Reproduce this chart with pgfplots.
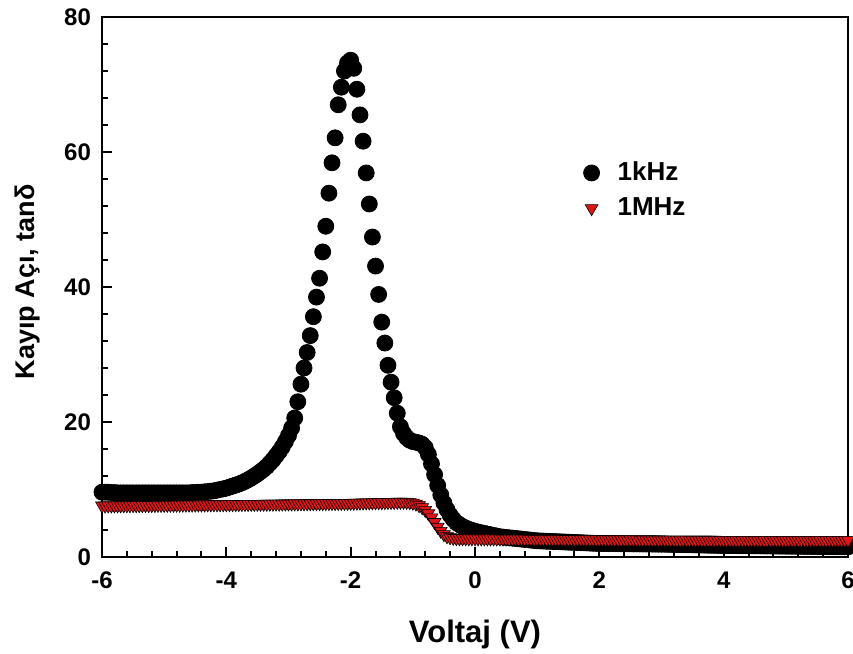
\documentclass[border=0pt]{standalone}
\usepackage{pgfplots}
\pgfplotsset{compat=1.18}
\usepackage{fontspec}
\setmainfont{Liberation Sans}
\definecolor{tri}{RGB}{225,20,20}
\begin{document}
\begin{tikzpicture}
\useasboundingbox (-51pt,-48.5pt) rectangle (375.5pt,278.5pt);
\begin{axis}[
  at={(0,0)}, anchor=south west,
  scale only axis, width=373pt, height=270pt,
  xmin=-6, xmax=6, ymin=0, ymax=80,
  xtick={-6,-4,...,6}, ytick={0,20,...,80},
  minor x tick num=4, minor y tick num=4,
  tick pos=left, tick align=inside,
  major tick length=5pt, minor tick length=3pt,
  axis line style={line width=1.3pt},
  every tick/.style={line width=1pt, black},
  clip=false,
  /pgf/number format/assume math mode=true,
  ticklabel style={font=\bfseries\fontsize{12}{14}\selectfont},
  xticklabel style={yshift=-4pt},
  yticklabel style={xshift=-2pt},
  xlabel={Voltaj (V)},
  ylabel={Kayıp Açı, tanδ},
  xlabel style={at={(axis description cs:0.5,-0.144)}, anchor=center, font=\bfseries\fontsize{15.5}{18}\selectfont},
  ylabel style={at={(axis description cs:-0.1,0.51)}, anchor=center, font=\bfseries\fontsize{13.5}{16}\selectfont},
  legend style={at={(rel axis cs:0.637,0.747)}, anchor=north west, draw=none, fill=none,
    font=\bfseries\fontsize{13}{15}\selectfont, row sep=3pt, column sep=7pt},
  legend cell align=left,
]
\addplot[only marks, mark=*, mark size=4pt, black] coordinates {
(-6.00,9.6) (-5.95,9.6) (-5.90,9.6) (-5.85,9.55) (-5.80,9.55) (-5.75,9.5) (-5.70,9.5) (-5.65,9.5) (-5.60,9.5) (-5.55,9.5)
(-5.50,9.5) (-5.45,9.5) (-5.40,9.5) (-5.35,9.5) (-5.30,9.5) (-5.25,9.5) (-5.20,9.5) (-5.15,9.5) (-5.10,9.5) (-5.05,9.5)
(-5.00,9.5) (-4.95,9.5) (-4.90,9.5) (-4.85,9.5) (-4.80,9.5) (-4.75,9.5) (-4.70,9.5) (-4.65,9.5) (-4.60,9.5) (-4.55,9.55)
(-4.50,9.55) (-4.45,9.6) (-4.40,9.6) (-4.35,9.65) (-4.30,9.7) (-4.25,9.75) (-4.20,9.8) (-4.15,9.9) (-4.10,10.0) (-4.05,10.1)
(-4.00,10.2) (-3.95,10.35) (-3.90,10.5) (-3.85,10.65) (-3.80,10.8) (-3.75,11.0) (-3.70,11.2) (-3.65,11.45) (-3.60,11.7) (-3.55,12.0)
(-3.50,12.3) (-3.45,12.65) (-3.40,13.0) (-3.35,13.4) (-3.30,13.9) (-3.25,14.4) (-3.20,15.0) (-3.15,15.6) (-3.10,16.3) (-3.05,17.1)
(-3.00,18.0) (-2.95,19.1) (-2.90,20.6) (-2.85,23.0) (-2.80,25.6) (-2.75,28.0) (-2.70,30.3) (-2.65,32.8) (-2.60,35.6) (-2.55,38.5)
(-2.50,41.3) (-2.45,45.2) (-2.40,49.0) (-2.35,53.9) (-2.30,58.4) (-2.25,62.1) (-2.20,67.0) (-2.15,69.6) (-2.10,72.0) (-2.05,73.2)
(-2.00,73.6) (-1.95,72.4) (-1.90,69.3) (-1.85,65.5) (-1.80,61.6) (-1.75,56.9) (-1.70,52.3) (-1.65,47.4) (-1.60,43.1) (-1.55,38.9)
(-1.50,34.8) (-1.45,31.7) (-1.40,28.4) (-1.35,25.9) (-1.30,23.6) (-1.25,21.3) (-1.20,19.3) (-1.15,18.3) (-1.10,17.7) (-1.05,17.3)
(-1.00,17.1) (-0.95,17.0) (-0.90,16.9) (-0.85,16.7) (-0.80,16.2) (-0.75,15.2) (-0.70,13.8) (-0.65,12.2) (-0.60,10.6) (-0.55,9.2)
(-0.50,8.0) (-0.45,7.0) (-0.40,6.2) (-0.35,5.6) (-0.30,5.1) (-0.25,4.8) (-0.20,4.5) (-0.15,4.3) (-0.10,4.1) (-0.05,3.95)
(0.00,3.8) (0.05,3.7) (0.10,3.6) (0.15,3.5) (0.20,3.4) (0.25,3.3) (0.30,3.2) (0.35,3.1) (0.40,3.0) (0.45,2.95)
(0.50,2.9) (0.55,2.85) (0.60,2.8) (0.65,2.75) (0.70,2.7) (0.75,2.65) (0.80,2.6) (0.85,2.55) (0.90,2.5) (0.95,2.45)
(1.00,2.4) (1.05,2.38) (1.10,2.36) (1.15,2.34) (1.20,2.32) (1.25,2.3) (1.30,2.28) (1.35,2.26) (1.40,2.24) (1.45,2.22)
(1.50,2.2) (1.55,2.18) (1.60,2.16) (1.65,2.14) (1.70,2.12) (1.75,2.1) (1.80,2.08) (1.85,2.06) (1.90,2.04) (1.95,2.02)
(2.00,2.0) (2.05,1.99) (2.10,1.99) (2.15,1.98) (2.20,1.98) (2.25,1.97) (2.30,1.97) (2.35,1.96) (2.40,1.96) (2.45,1.95)
(2.50,1.95) (2.55,1.94) (2.60,1.94) (2.65,1.93) (2.70,1.93) (2.75,1.92) (2.80,1.92) (2.85,1.91) (2.90,1.91) (2.95,1.9)
(3.00,1.9) (3.05,1.89) (3.10,1.88) (3.15,1.87) (3.20,1.86) (3.25,1.85) (3.30,1.84) (3.35,1.83) (3.40,1.82) (3.45,1.81)
(3.50,1.8) (3.55,1.79) (3.60,1.78) (3.65,1.77) (3.70,1.76) (3.75,1.75) (3.80,1.74) (3.85,1.73) (3.90,1.72) (3.95,1.71)
(4.00,1.7) (4.05,1.7) (4.10,1.69) (4.15,1.69) (4.20,1.68) (4.25,1.68) (4.30,1.67) (4.35,1.67) (4.40,1.66) (4.45,1.66)
(4.50,1.65) (4.55,1.65) (4.60,1.64) (4.65,1.64) (4.70,1.63) (4.75,1.63) (4.80,1.62) (4.85,1.62) (4.90,1.61) (4.95,1.61)
(5.00,1.6) (5.05,1.6) (5.10,1.59) (5.15,1.59) (5.20,1.58) (5.25,1.58) (5.30,1.57) (5.35,1.57) (5.40,1.56) (5.45,1.56)
(5.50,1.55) (5.55,1.55) (5.60,1.54) (5.65,1.54) (5.70,1.53) (5.75,1.53) (5.80,1.52) (5.85,1.52) (5.90,1.51) (5.95,1.51)
(6.00,1.5)
};
\addlegendentry{1kHz}
\addplot[only marks, mark=triangle*, mark size=3.7pt, mark options={rotate=180, fill=tri, draw=black, line width=0.3pt}] coordinates {
(-6.00,7.6) (-5.95,7.6) (-5.90,7.61) (-5.85,7.61) (-5.80,7.62) (-5.75,7.62) (-5.70,7.63) (-5.65,7.63) (-5.60,7.64) (-5.55,7.64)
(-5.50,7.65) (-5.45,7.65) (-5.40,7.66) (-5.35,7.66) (-5.30,7.67) (-5.25,7.67) (-5.20,7.68) (-5.15,7.68) (-5.10,7.69) (-5.05,7.69)
(-5.00,7.7) (-4.95,7.7) (-4.90,7.71) (-4.85,7.71) (-4.80,7.72) (-4.75,7.72) (-4.70,7.73) (-4.65,7.73) (-4.60,7.74) (-4.55,7.74)
(-4.50,7.75) (-4.45,7.75) (-4.40,7.76) (-4.35,7.76) (-4.30,7.77) (-4.25,7.77) (-4.20,7.78) (-4.15,7.78) (-4.10,7.79) (-4.05,7.79)
(-4.00,7.8) (-3.95,7.8) (-3.90,7.81) (-3.85,7.81) (-3.80,7.82) (-3.75,7.82) (-3.70,7.83) (-3.65,7.83) (-3.60,7.84) (-3.55,7.84)
(-3.50,7.85) (-3.45,7.85) (-3.40,7.86) (-3.35,7.86) (-3.30,7.87) (-3.25,7.87) (-3.20,7.88) (-3.15,7.88) (-3.10,7.89) (-3.05,7.89)
(-3.00,7.9) (-2.95,7.9) (-2.90,7.91) (-2.85,7.91) (-2.80,7.92) (-2.75,7.92) (-2.70,7.93) (-2.65,7.93) (-2.60,7.94) (-2.55,7.94)
(-2.50,7.95) (-2.45,7.95) (-2.40,7.96) (-2.35,7.96) (-2.30,7.97) (-2.25,7.97) (-2.20,7.98) (-2.15,7.98) (-2.10,7.99) (-2.05,7.99)
(-2.00,8.0) (-1.95,8.01) (-1.90,8.02) (-1.85,8.03) (-1.80,8.04) (-1.75,8.05) (-1.70,8.06) (-1.65,8.07) (-1.60,8.08) (-1.55,8.09)
(-1.50,8.1) (-1.45,8.11) (-1.40,8.12) (-1.35,8.13) (-1.30,8.14) (-1.25,8.15) (-1.20,8.16) (-1.15,8.16) (-1.10,8.14) (-1.05,8.1)
(-1.00,8.02) (-0.95,7.88) (-0.90,7.65) (-0.85,7.35) (-0.80,6.95) (-0.75,6.45) (-0.70,5.85) (-0.65,5.15) (-0.60,4.45) (-0.55,3.85)
(-0.50,3.35) (-0.45,3.05) (-0.40,2.9) (-0.35,2.82) (-0.30,2.78) (-0.25,2.76) (-0.20,2.75) (-0.15,2.75) (-0.10,2.74) (-0.05,2.74)
(0.00,2.74) (0.05,2.74) (0.10,2.73) (0.15,2.73) (0.20,2.73) (0.25,2.72) (0.30,2.72) (0.35,2.72) (0.40,2.71) (0.45,2.71)
(0.50,2.71) (0.55,2.7) (0.60,2.7) (0.65,2.7) (0.70,2.69) (0.75,2.69) (0.80,2.69) (0.85,2.68) (0.90,2.68) (0.95,2.68)
(1.00,2.67) (1.05,2.67) (1.10,2.67) (1.15,2.66) (1.20,2.66) (1.25,2.66) (1.30,2.65) (1.35,2.65) (1.40,2.65) (1.45,2.64)
(1.50,2.64) (1.55,2.64) (1.60,2.63) (1.65,2.63) (1.70,2.63) (1.75,2.62) (1.80,2.62) (1.85,2.62) (1.90,2.61) (1.95,2.61)
(2.00,2.61) (2.05,2.6) (2.10,2.6) (2.15,2.6) (2.20,2.6) (2.25,2.59) (2.30,2.59) (2.35,2.59) (2.40,2.59) (2.45,2.58)
(2.50,2.58) (2.55,2.58) (2.60,2.58) (2.65,2.57) (2.70,2.57) (2.75,2.57) (2.80,2.57) (2.85,2.56) (2.90,2.56) (2.95,2.56)
(3.00,2.56) (3.05,2.55) (3.10,2.55) (3.15,2.55) (3.20,2.55) (3.25,2.54) (3.30,2.54) (3.35,2.54) (3.40,2.54) (3.45,2.53)
(3.50,2.53) (3.55,2.53) (3.60,2.53) (3.65,2.52) (3.70,2.52) (3.75,2.52) (3.80,2.52) (3.85,2.52) (3.90,2.51) (3.95,2.51)
(4.00,2.51) (4.05,2.51) (4.10,2.51) (4.15,2.51) (4.20,2.5) (4.25,2.5) (4.30,2.5) (4.35,2.5) (4.40,2.5) (4.45,2.5)
(4.50,2.5) (4.55,2.5) (4.60,2.5) (4.65,2.5) (4.70,2.5) (4.75,2.5) (4.80,2.5) (4.85,2.5) (4.90,2.5) (4.95,2.5)
(5.00,2.5) (5.05,2.5) (5.10,2.5) (5.15,2.5) (5.20,2.5) (5.25,2.5) (5.30,2.5) (5.35,2.5) (5.40,2.5) (5.45,2.5)
(5.50,2.5) (5.55,2.5) (5.60,2.5) (5.65,2.5) (5.70,2.5) (5.75,2.5) (5.80,2.5) (5.85,2.5) (5.90,2.5) (5.95,2.5)
(6.00,2.5)
};
\addlegendentry{1MHz}
\end{axis}
\end{tikzpicture}
\end{document}
